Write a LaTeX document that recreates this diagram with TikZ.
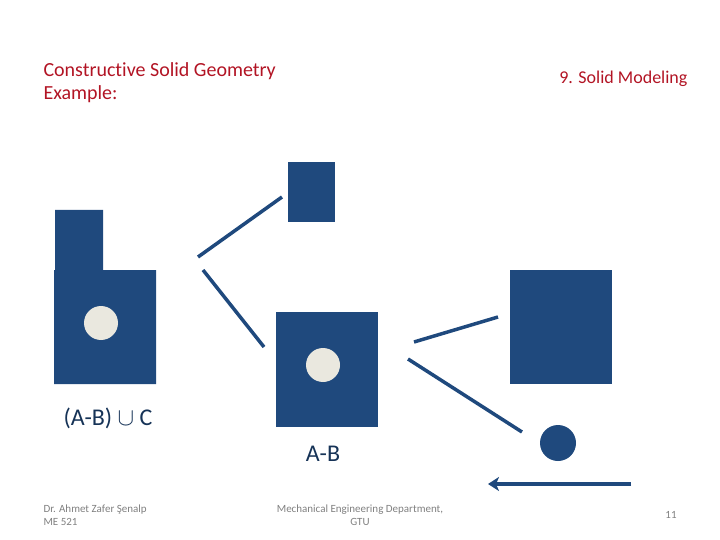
\documentclass[tikz,border=0pt]{standalone}
\usepackage{fontspec}
\setmainfont{Carlito}[Ligatures=NoCommon]
\usepackage{xcolor}
\usetikzlibrary{positioning,arrows.meta,calc}
\definecolor{slateblue}{RGB}{31,73,125}
\definecolor{holecol}{RGB}{234,232,223}
\definecolor{titlered}{RGB}{178,20,36}
\definecolor{footgray}{RGB}{128,128,128}

\begin{document}
\begin{tikzpicture}[
    x=1pt, y=-1pt,
    solid/.style={
      fill=slateblue,
      draw=none,
      inner sep=0pt,
      outer sep=0pt
    },
    hole/.style={
      circle,
      fill=holecol,
      inner sep=0pt,
      minimum size=34pt
    },
    link/.style={
      draw=slateblue,
      line width=3.5pt
    },
    title/.style={
      text=titlered,
      align=left,
      font=\fontsize{20}{23}\selectfont
    },
    foot/.style={
      text=footgray,
      font=\fontsize{11}{13}\selectfont
    },
    lbl/.style={
      text=slateblue!70!black,
      font=\fontsize{24}{28}\selectfont
    }
  ]
    \useasboundingbox (0,0) rectangle (720,540);

    % titles
    \node[title, anchor=north west] (ttl) at (40,59) {Constructive Solid Geometry\\Example:};
    \node[title, anchor=east, font=\fontsize{18}{21}\selectfont] (chap) at (691,79) {9. Solid Modeling};

    % (A-B) u C
    \fill[slateblue] (55,210) -- (103,210) -- (103,270) -- (156,270)
      -- (156,384) -- (54,384) -- (54,270) -- (55,270) -- cycle;
    \node[hole] (h1) at (101,323) {};
    \node[lbl] (res) at (108,418) {(A-B) $\cup$ C};

    % A and A-B
    \node[solid, minimum width=47pt, minimum height=60pt] (A) at (311.5,192) {};
    \node[solid, minimum width=102pt, minimum height=115pt] (AmB) at (327,369.5) {};
    \node[hole] (h2) at (323,365) {};
    \node[lbl] (amb) at (323,454) {A-B};

    % B and C
    \node[solid, minimum width=102pt, minimum height=114pt] (B) at (561,327) {};
    \node[solid, circle, minimum size=36pt] (C) at (558,443) {};

    % connectors
    \coordinate (p1) at (198,257);
    \coordinate (p2) at (282,197);
    \coordinate (p3) at (203,270);
    \coordinate (p4) at (264,347);
    \coordinate (p5) at (414,342);
    \coordinate (p6) at (498,317);
    \coordinate (p7) at (408,359);
    \coordinate (p8) at (522,432);
    \coordinate (q1) at (631,484);
    \coordinate (q2) at (488,484);
    \draw[link] (p1) -- (p2);
    \draw[link] (p3) -- (p4);
    \draw[link] (p5) -- (p6);
    \draw[link] (p7) -- (p8);
    \draw[link, -{Stealth[length=11pt,width=14pt,inset=3pt]}] (q1) -- (q2);

    % footer
    \node[foot, anchor=west, align=left] (auth) at (40,515) {Dr. Ahmet Zafer Şenalp\\ME 521};
    \node[foot, align=center] (dept) at (360,515) {Mechanical Engineering Department,\\GTU};
    \node[foot] (pg) at (671,515) {11};
\end{tikzpicture}
\end{document}
